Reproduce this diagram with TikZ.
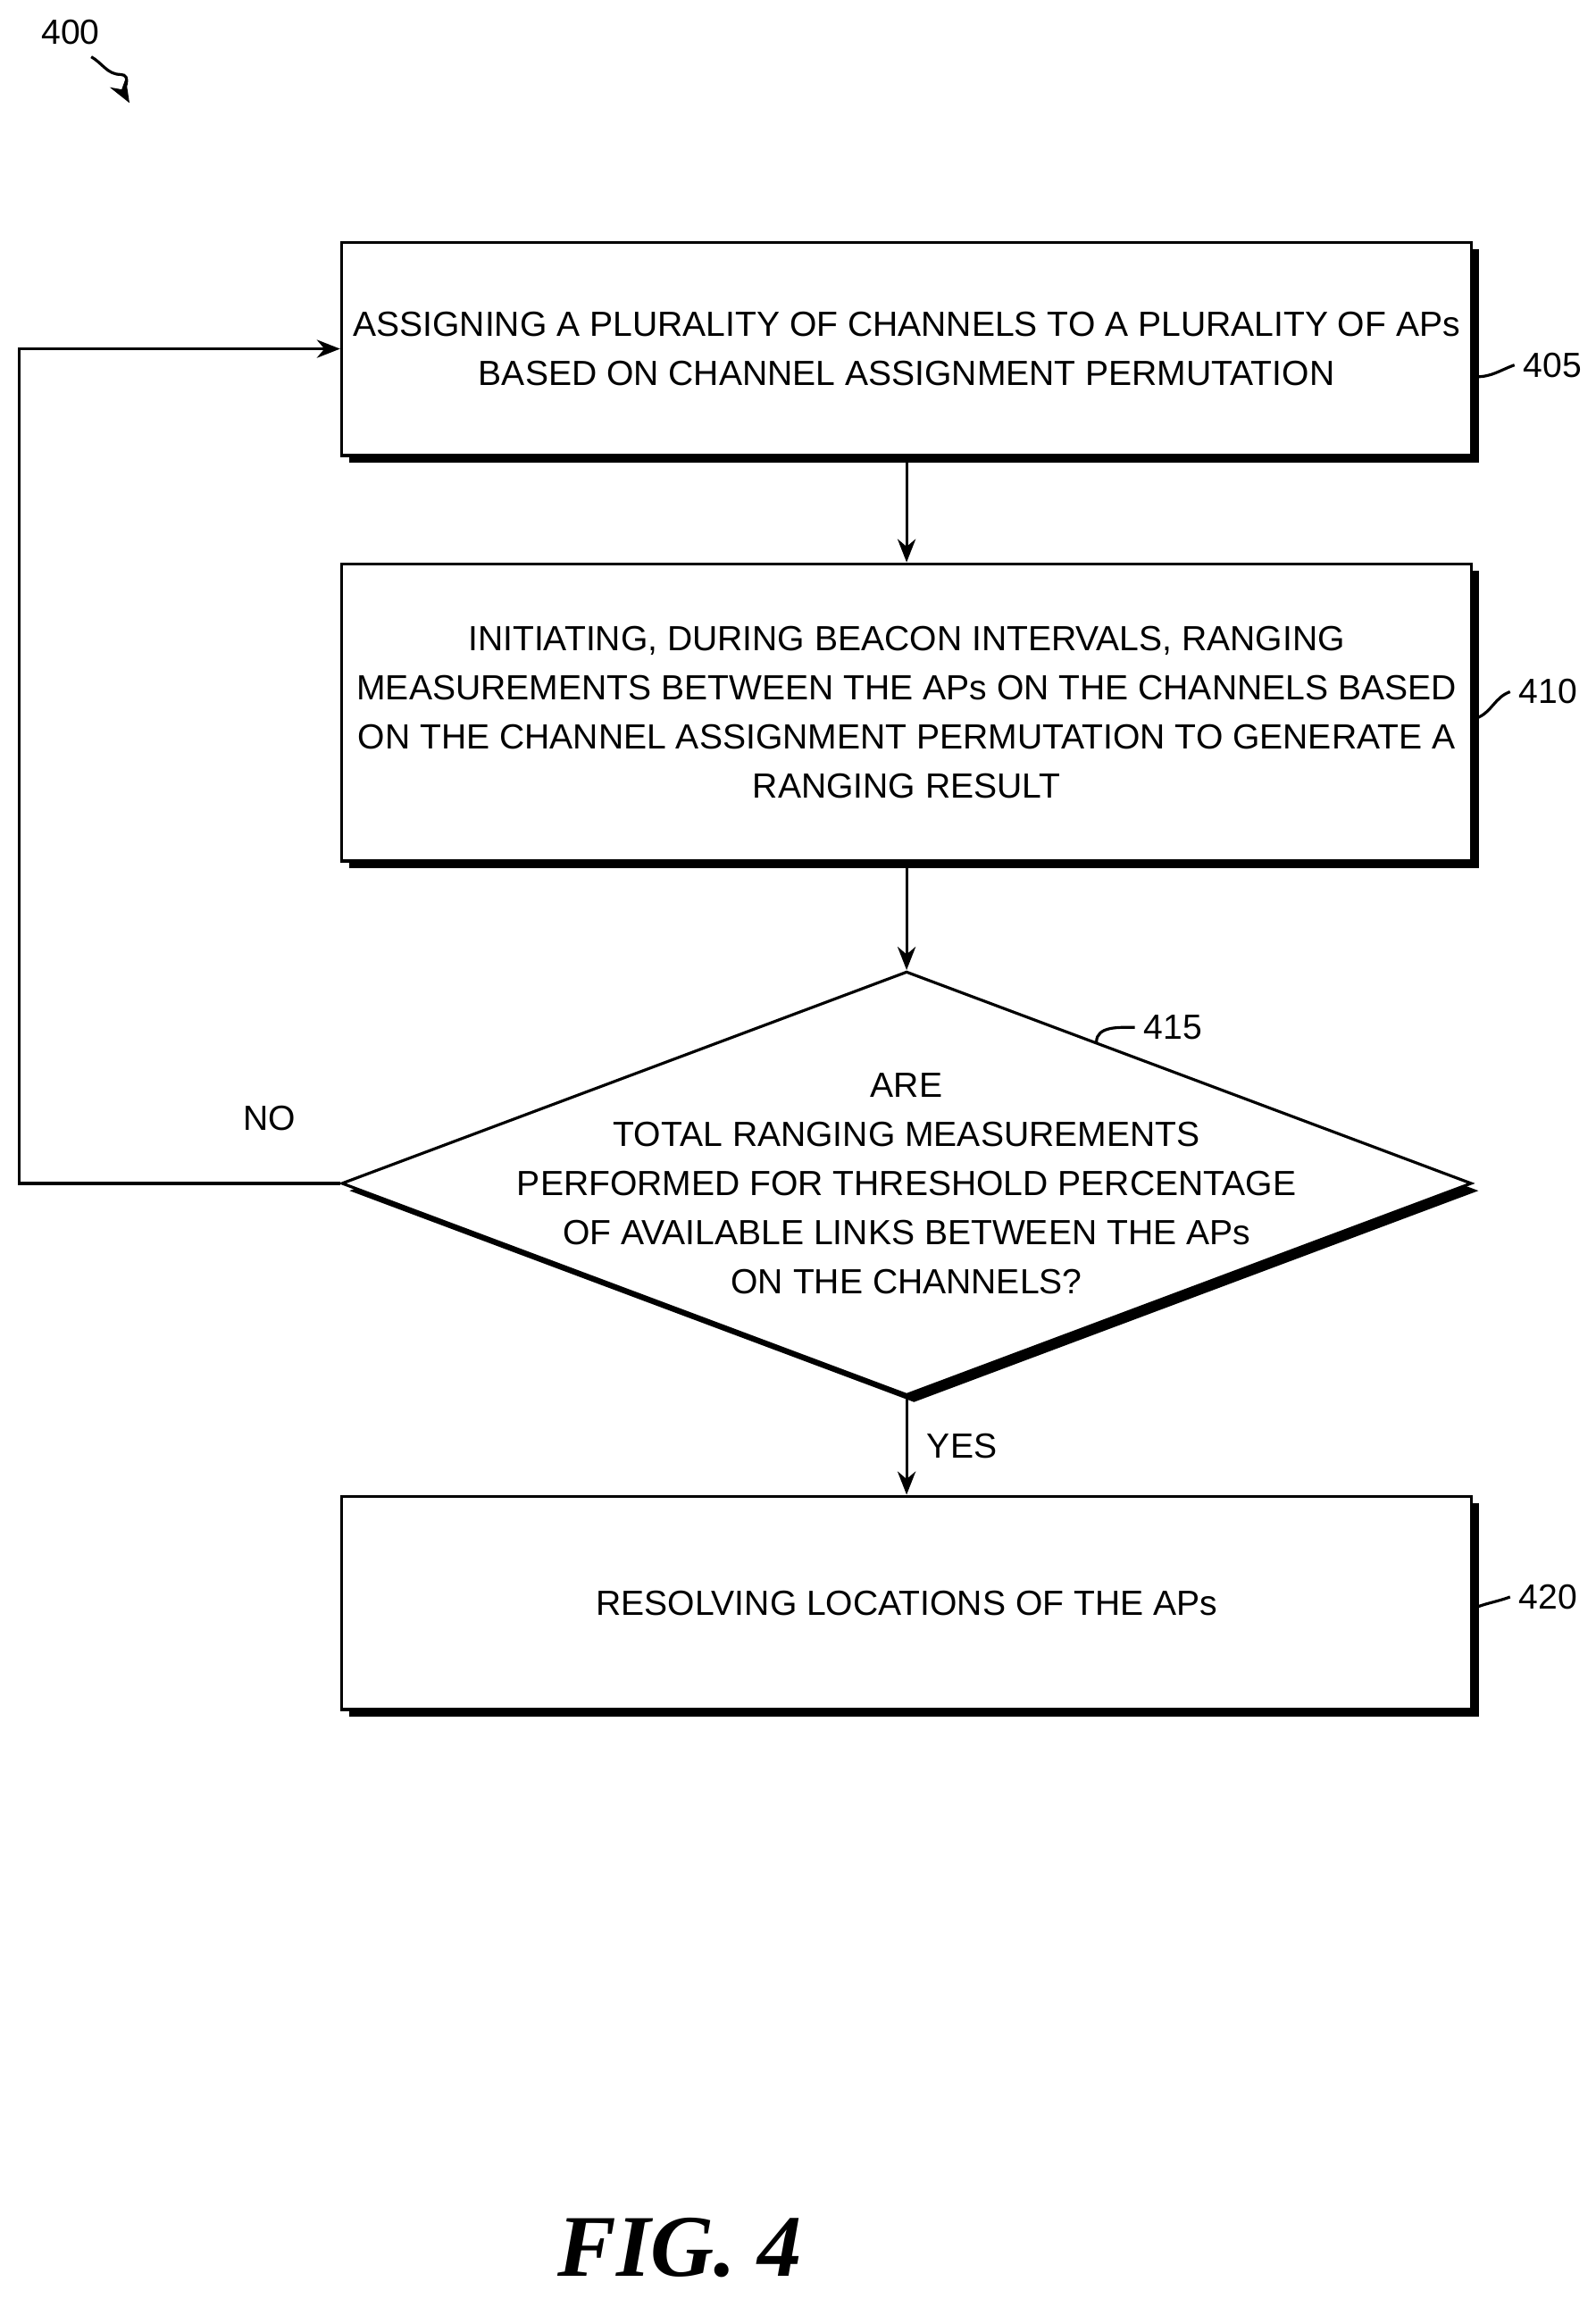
\documentclass[tikz,border=0pt]{standalone}
\usepackage{fontspec}
\setmainfont{Liberation Sans}
\newfontfamily\figfont{Liberation Serif}
\usetikzlibrary{shapes.geometric,shadows,arrows.meta,positioning}
\begin{document}
\begin{tikzpicture}[x=0.02cm,y=-0.02cm,
    every node/.style={font=\fontsize{13.5}{19}\selectfont},
    procbox/.style={draw,line width=1.1pt,minimum width=15.36cm,minimum height=2.9cm,align=center,
                 fill=white,drop shadow={shadow xshift=0.1cm,shadow yshift=-0.1cm,opacity=1,fill=black}},
    arr/.style={line width=1.1pt,-{Stealth[length=9pt,width=7pt]}}
  ]
  \useasboundingbox (0,0) rectangle (1084,1562);
  \node[procbox] (s405) at (616,237) {ASSIGNING A PLURALITY OF CHANNELS TO A PLURALITY OF APs\\BASED ON CHANNEL ASSIGNMENT PERMUTATION};
  \node[procbox,minimum height=4.04cm] (s410) at (616,484) {INITIATING, DURING BEACON INTERVALS, RANGING\\MEASUREMENTS BETWEEN THE APs ON THE CHANNELS BASED\\ON THE CHANNEL ASSIGNMENT PERMUTATION TO GENERATE A\\RANGING RESULT};
  \node[diamond,draw,line width=1.1pt,minimum width=15.36cm,minimum height=5.76cm,inner sep=0pt,aspect=2.67,
        fill=white,drop shadow={shadow xshift=0.1cm,shadow yshift=-0.1cm,opacity=1,fill=black}] (s415) at (616,804) {};
  \node[align=center] (q415) at (616,804) {ARE\\TOTAL RANGING MEASUREMENTS\\PERFORMED FOR THRESHOLD PERCENTAGE\\OF AVAILABLE LINKS BETWEEN THE APs\\ON THE CHANNELS?};
  \node[procbox] (s420) at (616,1089) {RESOLVING LOCATIONS OF THE APs};
  % connectors
  \draw[arr] (s405) -- (s410);
  \draw[arr] (s410) -- (s415);
  \draw[arr] (s415) -- node[right=4pt] {YES} (s420);
  \coordinate (back) at (13,804);
  \draw[arr] (s415.west) -- (back) |- (s405.west);
  \node (no) at (183,760) {NO};
  % reference labels
  \node (n405) at (1055,248) {405};
  \draw[line width=1.1pt] (1003,256) to[out=0,in=200] (n405.west);
  \node (n410) at (1052,470) {410};
  \draw[line width=1.1pt] (1003,488) to[out=20,in=200] (n410.west);
  \node (n415) at (797,698) {415};
  \coordinate (e415) at (745,708);
  \draw[line width=1.1pt] (e415) to[out=90,in=180] (n415.west);
  \node (n420) at (1052,1085) {420};
  \draw[line width=1.1pt] (1003,1092) to[out=20,in=200] (n420.west);
  \node (n400) at (48,22) {400};
  \coordinate (t400) at (88,70);
  \draw[arr] (n400.south) ++(14,2) to[out=-30,in=180] ++(20,12) to[out=0,in=120] (t400);
  \node[font=\figfont\fontsize{34}{38}\selectfont\bfseries\itshape] (fig) at (462,1527) {FIG. 4};
\end{tikzpicture}
\end{document}
